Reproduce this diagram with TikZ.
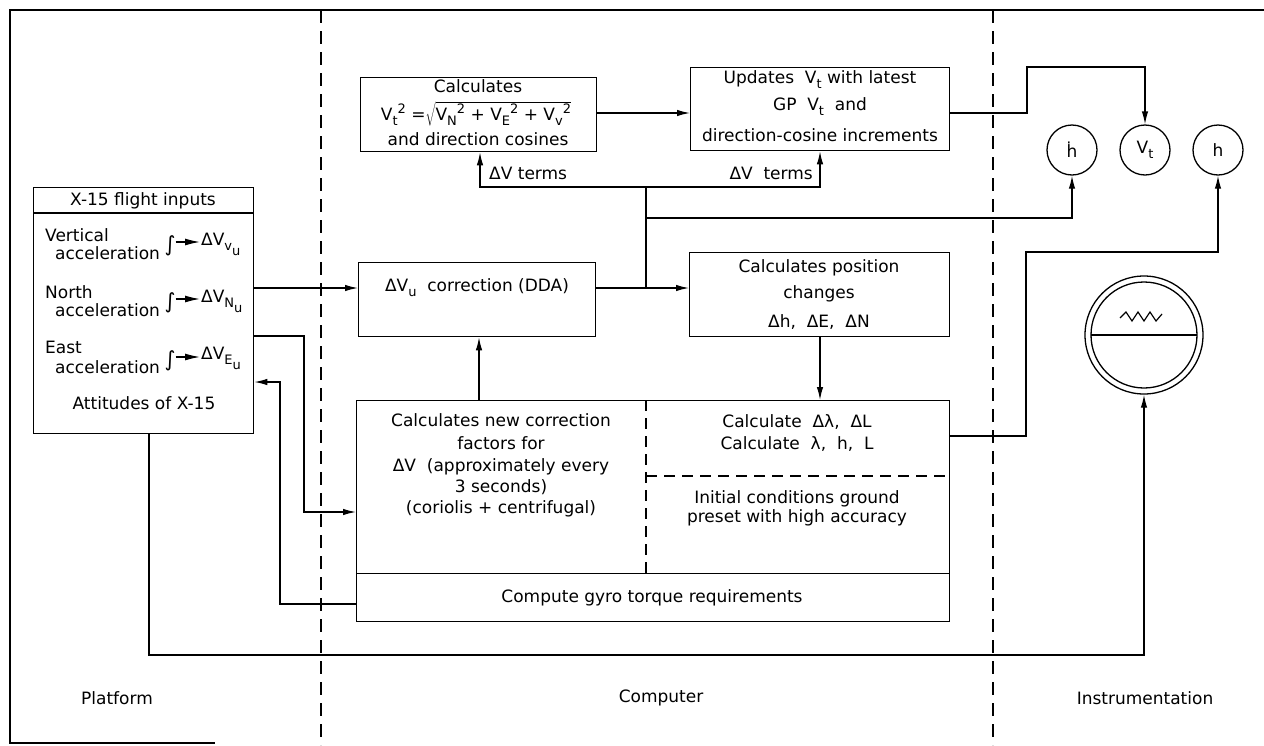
\documentclass[tikz,border=0pt]{standalone}
\usepackage{fontspec}
\setmainfont{DejaVu Sans}
\usetikzlibrary{arrows.meta}
\newcommand\sbx[2][5pt]{\raisebox{-#1}{\fontsize{13}{13}\selectfont #2}}
\newcommand\spx[1]{\raisebox{7pt}{\fontsize{13}{13}\selectfont #1}}
\tikzset{
 ln/.style={line width=1.3pt},
 arr/.style={ln,-{Latex[length=13pt,width=6.5pt]}},
 blk/.style={draw,ln,rectangle,inner sep=0pt,anchor=north west},
 txt/.style={inner sep=0pt,font=\fontsize{17}{20}\selectfont},
 dvr/.style={ln,dash pattern=on 13pt off 8pt},
 dint/.style={line width=1.1pt,dash pattern=on 11pt off 7pt},
 ring/.style={draw,ln,circle,inner sep=0pt,minimum size=50pt,font=\fontsize{17}{20}\selectfont},
 intarr/.style={line width=1.3pt,-{Latex[length=15pt,width=7pt]}},
 intg/.style={inner sep=0pt,font=\fontsize{21}{21}\selectfont},
}
\begin{document}
\begin{tikzpicture}[x=1pt,y=-1pt]
\useasboundingbox (0,0) rectangle (1264,745);
% frame and dividers
\draw[ln] (1264,10) -- (10,10) -- (10,743) -- (215,743);
\draw[dvr] (321,10) -- (321,745);
\draw[dvr] (993,10) -- (993,745);

% boxes
\node[blk,minimum width=220pt,minimum height=246pt] (inp) at (33,187) {};
\draw[ln] ([yshift=-26pt]inp.north west) -- ([yshift=-26pt]inp.north east);
\node[blk,minimum width=236pt,minimum height=74pt] (calc) at (360,77) {};
\node[blk,minimum width=259pt,minimum height=83pt] (upd) at (690,67) {};
\node[blk,minimum width=237pt,minimum height=74pt] (dvu) at (358,262) {};
\node[blk,minimum width=260pt,minimum height=84pt] (pos) at (689,252) {};
\node[blk,minimum width=593pt,minimum height=173pt] (low) at (356,400) {};
\node[blk,minimum width=593pt,minimum height=48pt] (gyro) at (356,573) {};

% instruments
\node[ring] (hd) at (1072,150) {ḣ};
\node[ring] (vt) at (1145,150) {V\sbx{t}};
\node[ring] (hh) at (1218,150) {h};
\node[draw,ln,circle,minimum size=118pt,inner sep=0pt] (inst) at (1144,335) {};
\draw[ln] (inst.center) circle[radius=53pt];
\draw[ln] ([xshift=-53pt]inst.center) -- ([xshift=53pt]inst.center);
\draw[line width=1.2pt] (1120,318)--(1126,312)--(1132,321)--(1138,312)--(1144,321)--(1150,312)--(1156,321)--(1162,314);

% helper coordinates
\coordinate (yA) at (0,288);
\coordinate (yB) at (304,336);
\coordinate (c1) at (304,512);
\coordinate (c2) at (280,604);
\coordinate (c3) at (280,382);
\coordinate (c4) at (149,655);
\coordinate (yC) at (0,113);
\coordinate (j1) at (646,288);
\coordinate (j2) at (646,187);
\coordinate (j3) at (480,187);
\coordinate (j4) at (820,187);
\coordinate (j5) at (646,218);
\coordinate (c5) at (1027,113);
\coordinate (c6) at (1027,67);
\coordinate (c7) at (479,0);
\coordinate (c8) at (1026,436);
\coordinate (c9) at (1026,252);
\coordinate (c10) at (646,476);

% connectors
\draw[arr] (inp.east |- yA) -- (dvu.west |- yA);
\draw[arr] (inp.east |- yB) -- (yB) -- (c1) -- (low.west |- c1);
\draw[arr] (gyro.west |- c2) -- (c2) -- (c3) -- (inp.east |- c3);
\draw[arr] (inp.south -| c4) -- (c4) -- (inst.south |- c4) -- (inst.south);
\draw[arr] (calc.east |- yC) -- (upd.west |- yC);
\draw[arr] (dvu.east |- yA) -- (pos.west |- yA);
\draw[ln] (j1) -- (j2);
\draw[arr] (j2) -- (j3) -- (calc.south -| j3);
\draw[arr] (j2) -- (j4) -- (upd.south -| j4);
\draw[arr] (j5) -- (hd.south |- j5) -- (hd.south);
\draw[arr] (upd.east |- c5) -- (c5) -- (c6) -- (vt.north |- c6) -- (vt.north);
\draw[arr] (pos.south -| j4) -- (low.north -| j4);
\draw[arr] (low.north -| c7) -- (dvu.south -| c7);
\draw[arr] (low.east |- c8) -- (c8) -- (c9) -- (hh.south |- c9) -- (hh.south);
\draw[dint] (low.north -| j1) -- (low.south -| j1);
\draw[dint] (c10) -- (low.east |- c10);

% left box texts
\node[txt] (hdr) at (143,201) {X-15 flight inputs};
\node[txt,anchor=base west] (v1) at (45,241) {Vertical};
\node[txt,anchor=base west] (v2) at (55,259) {acceleration};
\node[intg] (i1) at (170,246) {∫};
\node[txt,anchor=base west] (d1) at (201,245) {ΔV\sbx{v}\sbx[10pt]{u}};
\draw[intarr] ([yshift=4pt]i1.east) -- (200,242);
\node[txt,anchor=base west] (n1) at (45,298) {North};
\node[txt,anchor=base west] (n2) at (55,316) {acceleration};
\node[intg] (i2) at (170,303) {∫};
\node[txt,anchor=base west] (d2) at (201,302) {ΔV\sbx{N}\sbx[10pt]{u}};
\draw[intarr] ([yshift=4pt]i2.east) -- (200,299);
\node[txt,anchor=base west] (e1) at (45,353) {East};
\node[txt,anchor=base west] (e2) at (55,373) {acceleration};
\node[intg] (i3) at (170,361) {∫};
\node[txt,anchor=base west] (d3) at (201,359) {ΔV\sbx{E}\sbx[10pt]{u}};
\draw[intarr] ([yshift=4pt]i3.east) -- (200,357);
\node[txt] (att) at (144,403) {Attitudes of X-15};

% computer texts
\node[txt] (t1) at (478,86) {Calculates};
\node[txt] (t2) at (476,114) {V\sbx{t}\spx{2} =$\sqrt{\hbox{V\sbx{N}\spx{2} + V\sbx{E}\spx{2} + V\sbx{v}\spx{2}}}$};
\node[txt] (t3) at (478,139) {and direction cosines};
\node[txt] (t4) at (820,80) {Updates\ \ V\sbx{t} with latest};
\node[txt] (t5) at (820,107) {GP\ \ V\sbx{t}\ \ and};
\node[txt] (t6) at (820,135) {direction-cosine increments};
\node[txt,anchor=west] (t7) at (489,173) {ΔV terms};
\node[txt,anchor=east] (t8) at (813,173) {ΔV\ \ terms};
\node[txt] (t9) at (477,288) {ΔV\sbx{u}\ \ correction (DDA)};
\node[txt] (t10) at (819,268) {Calculates position};
\node[txt] (t11) at (819,294) {changes};
\node[txt] (t12) at (819,322) {Δh,\ \ ΔE,\ \ ΔN};
\node[txt] (t13) at (501,420) {Calculates new correction};
\node[txt] (t14) at (501,443) {factors for};
\node[txt] (t15) at (501,467) {ΔV\ \ (approximately every};
\node[txt] (t16) at (501,487) {3 seconds)};
\node[txt] (t17) at (501,509) {(coriolis + centrifugal)};
\node[txt] (t18) at (797,422) {Calculate\ \ Δλ,\ \ ΔL};
\node[txt] (t19) at (797,444) {Calculate\ \ λ,\ \ h,\ \ L};
\node[txt] (t20) at (797,499) {Initial conditions ground};
\node[txt] (t21) at (797,518) {preset with high accuracy};
\node[txt] (t22) at (652,598) {Compute gyro torque requirements};

% section labels
\node[txt] (s1) at (117,698) {Platform};
\node[txt] (s2) at (661,698) {Computer};
\node[txt] (s3) at (1145,698) {Instrumentation};
\end{tikzpicture}
\end{document}
